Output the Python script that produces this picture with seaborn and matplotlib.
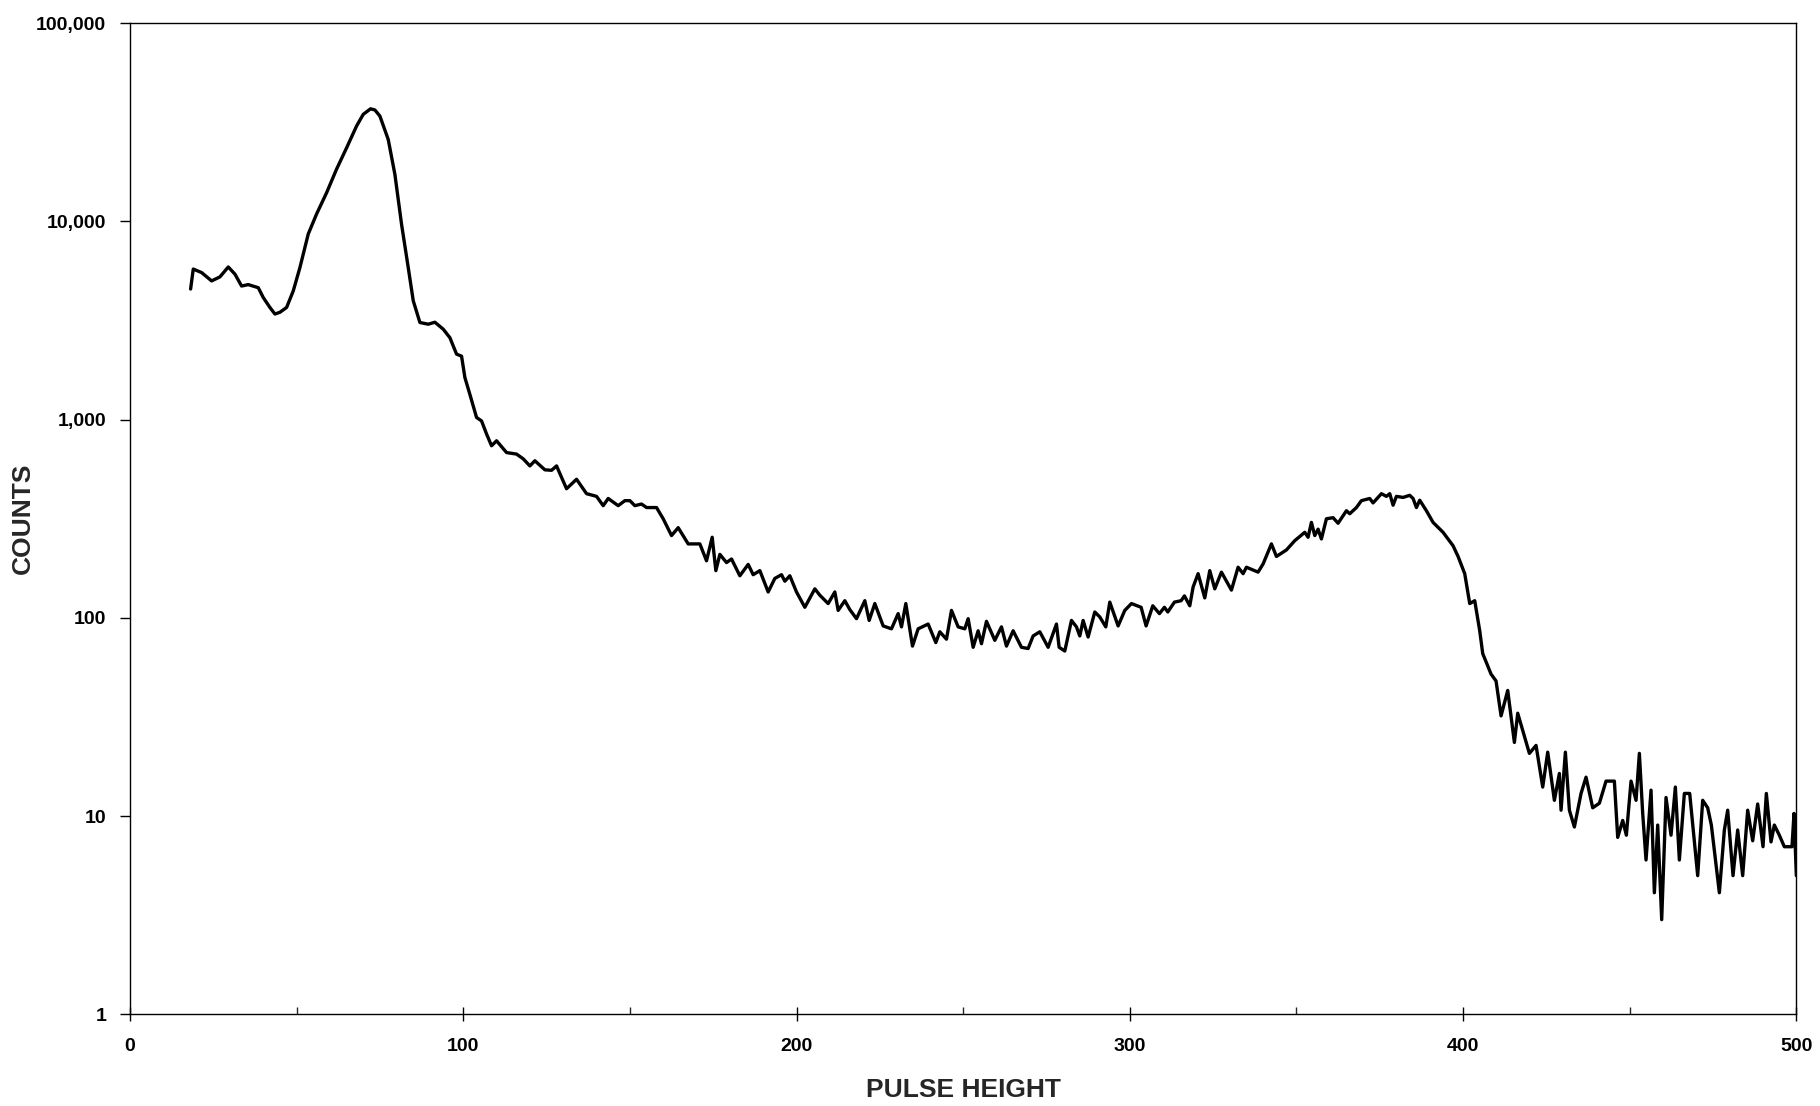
import matplotlib
matplotlib.use("Agg")
import matplotlib.pyplot as plt
import matplotlib.ticker as mticker
import seaborn as sns
import pandas as pd

# pulse height spectrum
pulse_height = [
    18.2, 19, 21.5, 24.5, 27, 29.5, 31.5, 33.5, 35.5, 38.5, 40, 42, 43.5, 45, 47, 49,
    51, 53.5, 56, 59, 62, 65, 68, 70, 72.2, 73.5, 75, 77.5, 79.5, 81.5, 83.5, 85,
    87, 89.5, 91.5, 94, 96, 98, 99.5, 100.5, 102, 104, 105.5, 107, 108.5, 110, 113,
    116, 118, 120, 121.5, 124.5, 126.5, 128, 131, 134, 137, 140, 142, 143.5, 146.5,
    148.5, 150, 151.5, 153.5, 155, 158, 160, 162.5, 164.5, 167.5, 171, 173, 174.7,
    175.8, 177, 179, 180.5, 183, 185.5, 187, 189, 191.5, 193.5, 195.5, 196.5, 198,
    200, 202.5, 205.5, 207, 209.5, 211.5, 212.5, 214.5, 216, 218, 220.5, 221.8,
    223.5, 226, 228.5, 230.5, 231.5, 232.8, 234.8, 236.5, 239.5, 241.8, 243, 245,
    246.5, 248.5, 250.5, 251.5, 253, 254.5, 255.5, 257, 259.5, 261.5, 263, 265,
    267.5, 269.5, 271, 273, 275.5, 278, 278.8, 280.5, 282.5, 284, 285, 286, 287.5,
    289.5, 291, 292.8, 294, 296.5, 298.5, 300.5, 303.4, 304.9, 306.9, 308.9, 310.4,
    311.4, 313.4, 315.4, 316.4, 318, 319, 320.5, 322.5, 324, 325.5, 327.5, 330.5,
    332.5, 334, 335, 338.5, 340, 342.5, 344, 347, 349.5, 352.5, 353.5, 354.5, 355.5,
    356.5, 357.5, 359, 361, 362.5, 365, 366, 368, 369.5, 372, 373, 375.5, 377, 378,
    379, 380, 382, 384, 385, 386, 387, 389, 391, 394, 397, 398.5, 400.5, 402, 403.5,
    405, 405.9, 408.4, 409.9, 411.4, 413.4, 415.4, 416.4, 419.9, 421.9, 423.9, 425.4,
    427.4, 428.9, 429.4, 430.7, 431.9, 433.4, 435.4, 436.9, 438.9, 440.9, 442.9,
    445.4, 446.4, 447.9, 449, 450.4, 451.9, 452.9, 453.9, 454.9, 456.4, 457.4, 458.4,
    459.6, 460.9, 462.4, 463.7, 464.9, 466.4, 468, 470.4, 471.9, 473.4, 474.5, 476.9,
    478.4, 479.4, 481, 482.4, 483.9, 485.4, 486.9, 488.4, 490, 491, 492.4, 493.4,
    494.9, 496.4, 498.7, 499.3, 500,
]
counts = [
    4560, 5750, 5520, 5010, 5250, 5890, 5420, 4720, 4800, 4630, 4130, 3680, 3410, 3480, 3680, 4460,
    5850, 8640, 10900, 13950, 18360, 23500, 30300, 34700, 37000, 36500, 34000, 25900, 17260, 9660, 5850, 3980,
    3090, 3030, 3100, 2860, 2590, 2140, 2090, 1630, 1340, 1025, 985, 846, 738, 782, 682,
    670, 634, 584, 620, 558, 555, 584, 448, 500, 423, 410, 368, 400, 368,
    390, 390, 368, 375, 360, 360, 316, 260, 285, 236, 236, 194, 255,
    173, 209, 190, 198, 163, 186, 165, 173, 135, 158, 165, 153, 163,
    135, 113, 140, 130, 118, 135, 109, 122, 110, 99, 122, 97,
    118, 91, 88, 105, 90, 118, 72, 88, 93, 75, 85, 78,
    109, 90, 88, 99, 71, 86, 74, 96, 77, 90, 72, 86,
    71, 70, 81, 85, 71, 93, 71, 68, 97, 90, 81, 97, 80,
    107, 101, 90, 120, 91, 109, 118, 113, 91, 115, 105, 113,
    107, 120, 122, 129, 115, 143, 167, 126, 173, 140, 170, 138,
    180, 167, 180, 170, 187, 236, 204, 220, 245, 270, 255, 303, 260,
    280, 250, 316, 320, 300, 347, 335, 360, 390, 400, 380, 423, 410, 423,
    370, 410, 405, 415, 400, 360, 392, 347, 303, 270, 231, 204, 167, 118, 122,
    86, 66, 52, 48, 32, 43, 23.5, 33, 20.7, 22.7, 14, 21,
    12, 16.4, 10.7, 21, 10.7, 8.8, 13, 15.7, 11, 11.6, 15,
    15, 7.8, 9.5, 8, 15, 12, 20.7, 10.3, 6.0, 13.5, 4.1, 9,
    3.0, 12.4, 8, 14, 6, 13, 13, 5.0, 12, 11, 9, 4.1,
    8.5, 10.7, 5.0, 8.5, 5, 10.7, 7.5, 11.5, 7, 13, 7.4, 9,
    8, 7, 7, 10.3, 5,
]

x_ticks = [0, 100, 200, 300, 400, 500]
y_ticks = [1, 10, 100, 1000, 10000, 100000]

df = pd.DataFrame({"pulse_height": pulse_height, "counts": counts})

sns.set_style("ticks")
plt.rcParams["font.family"] = ["Liberation Sans", "DejaVu Sans"]

fig, ax = plt.subplots(figsize=(18.2, 11.06), dpi=100)
fig.subplots_adjust(left=0.0714, right=0.987, top=0.979, bottom=0.083)

sns.lineplot(data=df, x="pulse_height", y="counts", ax=ax, color="black",
             linewidth=2.4, estimator=None, sort=False)

ax.set_yscale("log")
ax.set_xlim(0, 500)
ax.set_ylim(1, 100000)
ax.set_xticks(x_ticks)
ax.set_xticks([50, 150, 250, 350, 450], minor=True)
ax.set_yticks(y_ticks)
ax.yaxis.set_minor_locator(mticker.NullLocator())
ax.yaxis.set_major_formatter(mticker.FuncFormatter(lambda v, p: f"{v:,.0f}"))

for s in ax.spines.values():
    s.set_visible(True)
    s.set_color("black")
    s.set_linewidth(1.0)

ax.tick_params(axis="x", which="major", direction="inout", length=10, width=1,
               labelsize=14, pad=12, colors="black")
ax.tick_params(axis="x", which="minor", direction="in", length=5, width=1)
ax.tick_params(axis="y", which="major", direction="out", length=7, width=1,
               labelsize=14, pad=10, colors="black")
for lab in ax.get_xticklabels() + ax.get_yticklabels():
    lab.set_fontweight("bold")

ax.set_xlabel("PULSE HEIGHT", fontsize=19, fontweight="bold")
ax.set_ylabel("COUNTS", fontsize=19, fontweight="bold")
ax.xaxis.set_label_coords(0.5, -0.064)
ax.yaxis.set_label_coords(-0.057, 0.5)

fig.savefig("out.png", dpi=100)
